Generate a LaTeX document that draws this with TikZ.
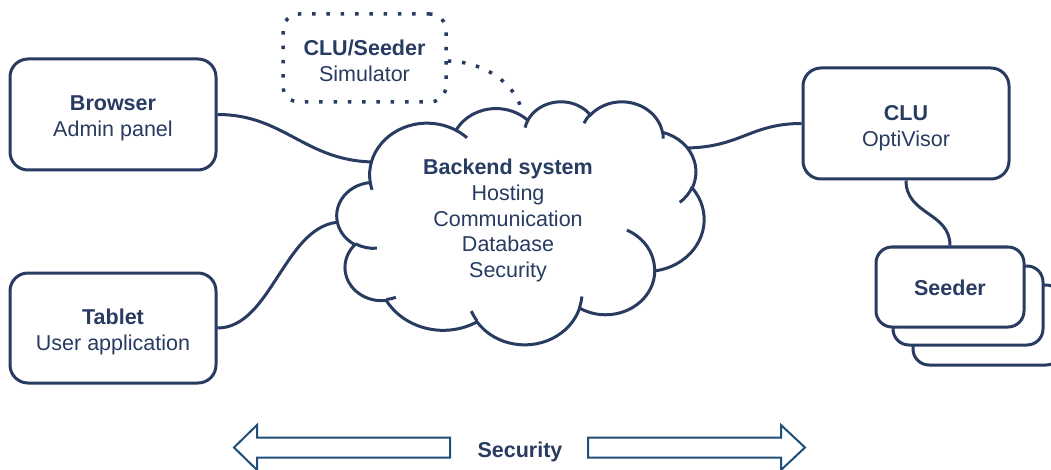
\documentclass[tikz,border=0pt]{standalone}
\usepackage{fontspec}
\setmainfont{Liberation Sans}
\definecolor{navy}{HTML}{283B61}
\definecolor{arrowblue}{HTML}{1F4E79}

% parametric angle of the ellipse point seen at angle #1 (radii #2, #3)
\makeatletter
\pgfmathdeclarefunction{parang}{3}{%
  \begingroup
  \pgfmathparse{atan2((#2)*sin(#1),(#3)*cos(#1))-(#1)+540}%
  \pgfmathparse{mod(\pgfmathresult,360)-180+(#1)}%
  \pgfmath@smuggleone\pgfmathresult
  \endgroup}
\makeatother

\tikzset{
  carc/.style n args={4}{start angle={parang(#3,#1,#2)},
    end angle={parang(#3+#4,#1,#2)}, x radius=#1, y radius=#2},
  plain/.style={align=center, text=navy, inner sep=0pt,
    font=\fontsize{21.5}{25.8}\selectfont},
  boxtext/.style={plain, yshift=-4pt},
  box/.style={draw=navy, line width=3pt, rounded corners=18pt, fill=white,
    inner sep=0pt},
  dotbox/.style={box, line width=3.5pt,
    dash pattern=on 3.5pt off 10.8pt, rounded corners=16pt},
  link/.style={draw=navy, line width=3pt},
  dotline/.style={draw=navy, line width=3.5pt, dash pattern=on 3.5pt off 10.8pt},
  cloudline/.style={draw=navy, line width=3pt},
  bigarrow/.style={draw=arrowblue, line width=2pt, fill=white, line join=miter}
}

\begin{document}
\begin{tikzpicture}[x=1pt, y=-1pt]
\useasboundingbox (0,0) rectangle (1051,470);

% endpoints on the cloud outline
\coordinate (cloudA) at (376,162);
\coordinate (cloudB) at (342,222);
\coordinate (cloudC) at (684,148);
\coordinate (cloudD) at (521,108);

% boxes
\node[box, minimum width=206pt, minimum height=111pt,
  label={[boxtext]center:{\textbf{Browser}\\Admin panel}}] (browser) at (113,114.5) {};
\node[box, minimum width=206pt, minimum height=110pt,
  label={[boxtext]center:{\textbf{Tablet}\\User application}}] (tablet) at (113,328) {};
\node[box, minimum width=206pt, minimum height=111pt,
  label={[boxtext, yshift=-1pt]center:{\textbf{CLU}\\OptiVisor}}] (clu) at (906,123.5) {};
\node[dotbox, minimum width=163pt, minimum height=88pt,
  label={[boxtext, yshift=1.5pt]center:{\textbf{CLU/Seeder}\\Simulator}}] (sim) at (364.5,58) {};

% stack of seeders
\node[box, rounded corners=16pt, minimum width=149pt, minimum height=80pt] (seeder3) at (987.5,325) {};
\node[box, rounded corners=16pt, minimum width=150pt, minimum height=79pt] (seeder2) at (968,305.5) {};
\node[box, rounded corners=16pt, minimum width=148pt, minimum height=80pt,
  label={[plain, yshift=-1pt]center:{\textbf{Seeder}}}] (seeder1) at (950,287) {};

% connectors
\draw[link] (browser.east) .. controls (285,114.5) and (305,162) .. (cloudA);
\draw[link] (tablet.east) .. controls (272,328) and (285,222) .. (cloudB);
\draw[link] (clu.west) .. controls (750,123.5) and (740,148) .. (cloudC);
\draw[link] (clu.south) .. controls (906,215) and (950,212) .. (seeder1.north);
\draw[dotline] ([yshift=-3pt]sim.east) .. controls (486,62) and (514,84) .. (cloudD);

% cloud
\begin{scope}[shift={(337,101)}, x=3.67pt, y=-2.43pt]
  \filldraw[cloudline, fill=white] (9.0278,33.2639)
    arc[carc={15.6319}{21.2731}{-190.4875}{123.7805}]
    arc[carc={12.3449}{16.8218}{-144.1024}{89.9452}]
    arc[carc={10.1042}{13.7616}{-145.8079}{99.7230}]
    arc[carc={11.2431}{15.2662}{-130.9861}{117.2417}]
    arc[carc={12.3449}{16.8356}{-78.7089}{109.0269}]
    arc[carc={15.6829}{21.3426}{-46.2673}{130.2690}]
    arc[carc={13.3912}{18.2106}{0.6250}{114.0333}]
    arc[carc={15.6296}{21.3310}{22.4516}{115.1726}]
    arc[carc={17.8704}{24.4051}{66.2426}{75.7110}]
    arc[carc={10.0926}{13.6991}{-274.9421}{146.7356}]
    arc[carc={10.0579}{13.7616}{-246.8285}{152.5189}]
    -- cycle;
  \draw[cloudline]
    (10.8634,60.5949) arc[carc={10.0579}{13.7616}{86.7420}{26.4295}]
    (16.0370,80.7847) arc[carc={10.0926}{13.6991}{73.6105}{11.4475}]
    (38.1435,90.4861) arc[carc={15.6296}{21.3310}{137.6242}{14.0811}]
    (66.7292,80.4421) arc[carc={15.6296}{21.3310}{6.4533}{15.9984}]
    (79.0023,53.1343) arc[carc={13.3912}{18.2106}{-70.2924}{70.9174}]
    (96.7546,35.5417) arc[carc={12.3449}{16.8356}{30.3180}{27.7515}]
    (88.7130,12.5602) arc[carc={11.2431}{15.2662}{-13.7443}{14.8589}]
    (67.3102,9.1481) arc[carc={11.2431}{15.2662}{-149.1815}{18.1954}]
    (51.2523,10.9259) arc[carc={10.1042}{13.7616}{-163.4943}{17.6864}]
    (32.4074,12.0185) arc[carc={15.6319}{21.2731}{-66.7070}{12.3194}]
    (9.5532,36.5486) arc[carc={15.6319}{21.2731}{157.6544}{11.8582}];
\end{scope}

\node[plain] (backend) at (508,220.5)
  {\textbf{Backend system}\\Hosting\\Communication\\Database\\Security};

% security arrows
\draw[bigarrow] (234,447.5) -- (257,425) -- (257,437.5) -- (450,437.5)
  -- (450,457.5) -- (257,457.5) -- (257,470) -- cycle;
\draw[bigarrow] (805,447.5) -- (781,425) -- (781,437.5) -- (588,437.5)
  -- (588,457.5) -- (781,457.5) -- (781,470) -- cycle;
\node[plain] (security) at (520,452) {\textbf{Security}};
\end{tikzpicture}
\end{document}
